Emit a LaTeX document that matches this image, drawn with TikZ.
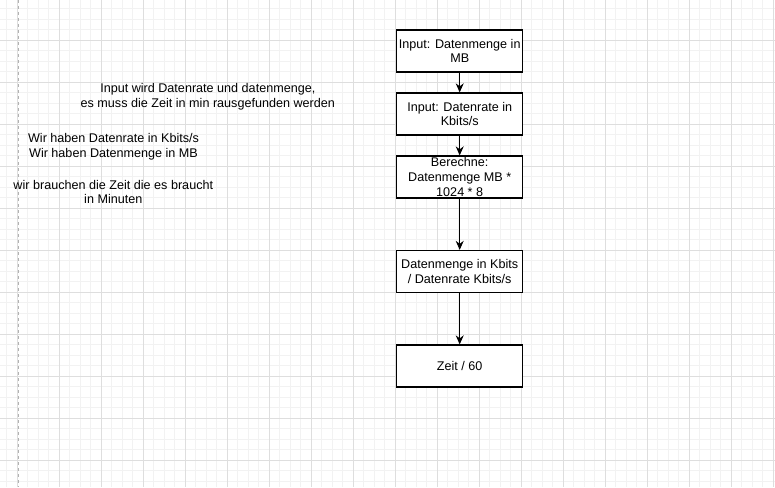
\documentclass[tikz,border=0pt]{standalone}
\usepackage{fontspec}
\setmainfont{Liberation Sans}
\usetikzlibrary{arrows.meta}
\definecolor{minorgrid}{HTML}{F2F2F2}
\definecolor{majorgrid}{HTML}{DEDEDE}
\tikzset{
  flowbox/.style={draw=black, line width=1.3pt, fill=white, minimum width=126pt, minimum height=42pt, inner sep=0pt, align=center, font=\fontsize{12.6}{14.8}\selectfont},
  note/.style={align=center, inner sep=0pt, font=\fontsize{12.6}{14.8}\selectfont},
  flowarrow/.style={draw=black, line width=1pt, -{Stealth[length=9pt,width=8pt,inset=3pt]}}
}
\begin{document}
\begin{tikzpicture}[x=1pt,y=-1pt]
\useasboundingbox (0,0) rectangle (775,487);
\fill[white] (0,0) rectangle (775,487);
% minor grid
\foreach \i in {0,...,74} {
  \draw[minorgrid, line width=0.8pt] ({-3.7+10.5*\i},0) -- ({-3.7+10.5*\i},487);
}
\foreach \j in {0,...,47} {
  \draw[minorgrid, line width=0.8pt] (0,{-2+10.5*\j}) -- (775,{-2+10.5*\j});
}
% major grid
\foreach \i in {0,...,18} {
  \draw[majorgrid, line width=0.8pt] ({17.3+42*\i},0) -- ({17.3+42*\i},487);
}
\foreach \j in {0,...,11} {
  \draw[majorgrid, line width=0.8pt] (0,{-2+42*\j}) -- (775,{-2+42*\j});
}
% dashed vertical line
\draw[gray!60, line width=0.8pt, dash pattern=on 3pt off 3pt] (18,0) -- (18,487);

% flow boxes
\node[flowbox] (b1) at (459.7,51) {Input: Datenmenge in\\MB};
\node[flowbox] (b2) at (459.7,114) {Input: Datenrate in\\Kbits/s};
\node[flowbox] (b3) at (459.7,177) {Berechne:\\Datenmenge MB *\\1024 * 8};
\node[flowbox] (b4) at (459.7,271.5) {Datenmenge in Kbits\\/ Datenrate Kbits/s};
\node[flowbox] (b5) at (459.7,366) {Zeit / 60};

\draw[flowarrow] (b1) -- (b2);
\draw[flowarrow] (b2) -- (b3);
\draw[flowarrow] (b3) -- (b4);
\draw[flowarrow] (b4) -- (b5);

% notes
\node[note] (n1) at (207.8,96.5) {Input wird Datenrate und datenmenge,\\es muss die Zeit in min rausgefunden werden};
\node[note] (n2) at (113.5,147) {Wir haben Datenrate in Kbits/s\\Wir haben Datenmenge in MB};
\node[note] (n3) at (113.3,192) {wir brauchen die Zeit die es braucht\\in Minuten};
\end{tikzpicture}
\end{document}
